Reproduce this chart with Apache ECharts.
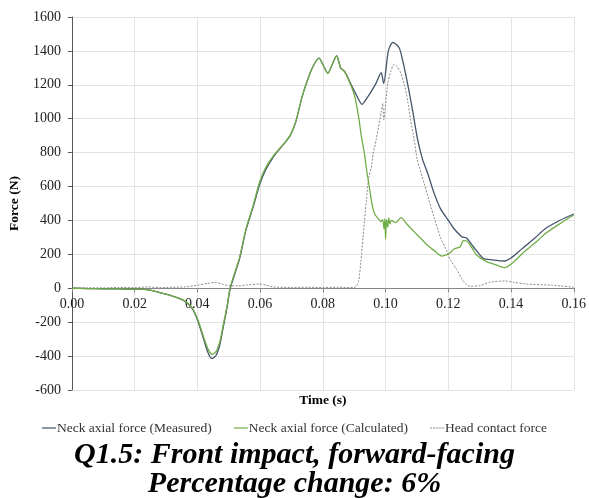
<!DOCTYPE html>
<html>
<head>
<meta charset="utf-8">
<script src="https://cdn.jsdelivr.net/npm/echarts@6/dist/echarts.min.js"></script>
<style>
  html, body { margin: 0; padding: 0; background: #fff; }
  #chart { width: 589px; height: 498px; }
</style>
</head>
<body>
<div id="chart"></div>
<script>
// tick values
var xTicks = [0, 0.02, 0.04, 0.06, 0.08, 0.10, 0.12, 0.14, 0.16];
var yTicks = [-600, -400, -200, 0, 200, 400, 600, 800, 1000, 1200, 1400, 1600];

// [time (s), force (N)]
var measured = [
    [0, 0], [0.005, -2], [0.01, -3], [0.015, -3], [0.02, -5], [0.023, -7], [0.026, -15],
    [0.03, -35], [0.0335, -55], [0.0356, -72], [0.0375, -100], [0.0387, -130], [0.0403, -200],
    [0.042, -300], [0.0435, -385], [0.0447, -415], [0.046, -395], [0.0472, -330], [0.0482, -235],
    [0.0495, -110], [0.0505, 0], [0.0534, 170], [0.0555, 344], [0.0578, 480], [0.0599, 615],
    [0.0618, 700], [0.064, 768], [0.066, 816], [0.068, 860], [0.0697, 904], [0.0714, 983],
    [0.0734, 1130], [0.0755, 1248], [0.0772, 1320], [0.0788, 1357], [0.08, 1320], [0.0816, 1268],
    [0.083, 1320], [0.0844, 1372], [0.0857, 1300], [0.087, 1278], [0.0891, 1199], [0.0907, 1140],
    [0.0925, 1085], [0.094, 1120], [0.0954, 1160], [0.097, 1210], [0.0986, 1272], [0.0994, 1209],
    [0.1009, 1400], [0.1023, 1450], [0.1043, 1420], [0.1055, 1340], [0.1071, 1200], [0.1087, 1040],
    [0.1102, 880], [0.1118, 760], [0.1134, 680], [0.1153, 570], [0.1175, 470], [0.1206, 385],
    [0.1217, 354], [0.1243, 304], [0.1259, 295], [0.128, 245], [0.1311, 177], [0.134, 168],
    [0.138, 161], [0.1437, 236], [0.1475, 295], [0.1511, 354], [0.1555, 400], [0.16, 438]
];

var calculated = [
    [0, 0], [0.005, -2], [0.01, -3], [0.015, -3], [0.02, -5], [0.023, -7], [0.026, -15],
    [0.03, -35], [0.0335, -55], [0.0356, -70], [0.0375, -97], [0.0387, -125], [0.0403, -192],
    [0.042, -288], [0.0435, -362], [0.0447, -389], [0.046, -372], [0.0472, -312], [0.0482, -222],
    [0.0495, -100], [0.0505, 8], [0.0534, 178], [0.0555, 350], [0.0578, 490], [0.0599, 630],
    [0.0618, 712], [0.064, 775], [0.066, 820], [0.068, 862], [0.0697, 906], [0.0714, 985],
    [0.0734, 1130], [0.0755, 1248], [0.0772, 1320], [0.0788, 1357], [0.08, 1320], [0.0816, 1268],
    [0.083, 1320], [0.0844, 1370], [0.0857, 1300], [0.087, 1275], [0.0891, 1190], [0.0902, 1130],
    [0.0915, 1000], [0.0923, 894], [0.0933, 790], [0.0941, 680], [0.0949, 590], [0.0957, 495],
    [0.0965, 440], [0.0976, 412], [0.0986, 393], [0.0991, 405], [0.0995, 350], [0.0998, 410],
    [0.1, 290], [0.1003, 405], [0.1007, 360], [0.101, 415], [0.1014, 380], [0.1018, 400],
    [0.1033, 387], [0.1049, 417], [0.107, 375], [0.1091, 334], [0.1112, 295], [0.1133, 255],
    [0.1155, 222], [0.118, 190], [0.1195, 198], [0.1206, 210], [0.1217, 230], [0.1238, 245],
    [0.1248, 281], [0.1259, 279], [0.1275, 240], [0.129, 196], [0.1322, 157], [0.135, 140],
    [0.138, 122], [0.1405, 150], [0.1437, 206], [0.1475, 265], [0.1511, 324], [0.1555, 380],
    [0.16, 432]
];

var headContact = [
    [0, 0], [0.005, 3], [0.01, 2], [0.015, 5], [0.02, 3], [0.024, 8], [0.028, 4], [0.032, 6],
    [0.036, 8], [0.04, 18], [0.043, 28], [0.0456, 35], [0.048, 25], [0.05, 15], [0.053, 14],
    [0.056, 20], [0.0597, 25], [0.062, 18], [0.064, 8], [0.07, 5], [0.075, 6], [0.08, 4],
    [0.085, 6], [0.09, 4], [0.0907, 14], [0.0914, 40], [0.0921, 150], [0.0928, 300],
    [0.0939, 520], [0.0946, 650], [0.0954, 710], [0.096, 790], [0.097, 875], [0.0986, 1040],
    [0.0991, 1090], [0.0994, 995], [0.1007, 1209], [0.1017, 1280], [0.1027, 1320], [0.1038, 1305],
    [0.1049, 1268], [0.106, 1200], [0.107, 1111], [0.108, 990], [0.1091, 880], [0.1101, 760],
    [0.1123, 619], [0.1154, 422], [0.1175, 300], [0.1196, 216], [0.1206, 170], [0.1227, 110],
    [0.1243, 55], [0.1257, 25], [0.1269, 12], [0.13, 15], [0.1332, 35], [0.138, 43],
    [0.141, 35], [0.1448, 25], [0.1532, 18], [0.16, 6]
];

var seriesNames = ['Neck axial force (Measured)', 'Neck axial force (Calculated)', 'Head contact force'];
var titleLines = ['Q1.5: Front impact, forward-facing', 'Percentage change: 6%'];

var serif = '"Liberation Serif", "Times New Roman", serif';
var solidIcon = 'path://M0,0H14V1.2H0Z';
var dashIcon = 'path://M0,0H2V1H0ZM3,0H5V1H3ZM6,0H8V1H6ZM9,0H11V1H9ZM12,0H14V1H12Z';

// distance of the zero line above the bottom of the grid (grid height 373, range -600..1600)
var gridTop = 17, gridBottom = 108, chartH = 498;
var plotH = chartH - gridTop - gridBottom;
var zeroFromBottom = plotH * (0 - yTicks[0]) / (yTicks[yTicks.length - 1] - yTicks[0]);

var chart = echarts.init(document.getElementById('chart'));
chart.setOption({
    animation: false,
    title: [
        {
            text: titleLines[0],
            left: 'center',
            top: 435,
            textStyle: { fontFamily: serif, fontSize: 30, fontWeight: 'bold', fontStyle: 'italic', color: '#000' }
        },
        {
            text: titleLines[1],
            left: 'center',
            top: 464,
            textStyle: { fontFamily: serif, fontSize: 30, fontWeight: 'bold', fontStyle: 'italic', color: '#000' }
        }
    ],
    legend: {
        data: [
            { name: seriesNames[0], icon: solidIcon },
            { name: seriesNames[1], icon: solidIcon },
            { name: seriesNames[2], icon: dashIcon }
        ],
        left: 'center',
        top: 416,
        itemWidth: 14,
        itemHeight: 1.4,
        itemGap: 22,
        textStyle: { fontFamily: serif, fontSize: 13.5, color: '#333', padding: [0, 0, 0, -4] }
    },
    grid: {
        left: 67,
        right: 14,
        top: gridTop,
        bottom: gridBottom
    },
    xAxis: {
        type: 'value',
        min: xTicks[0],
        max: xTicks[xTicks.length - 1],
        interval: 0.02,
        position: 'bottom',
        offset: -zeroFromBottom,
        name: 'Time (s)',
        nameLocation: 'middle',
        nameGap: 105,
        nameTextStyle: { fontFamily: serif, fontSize: 13.5, fontWeight: 'bold', color: '#000' },
        axisLine: { onZero: false, lineStyle: { color: '#868686', width: 1 } },
        axisTick: { show: true, length: 4, lineStyle: { color: '#868686' } },
        axisLabel: {
            fontFamily: serif, fontSize: 14, color: '#222', margin: 9,
            formatter: function (v) { return v.toFixed(2); }
        },
        splitLine: { show: true, lineStyle: { color: '#e3e3e3', width: 1 } }
    },
    yAxis: {
        type: 'value',
        min: yTicks[0],
        max: yTicks[yTicks.length - 1],
        interval: 200,
        name: 'Force (N)',
        nameLocation: 'middle',
        nameGap: 40,
        nameTextStyle: { fontFamily: serif, fontSize: 13.5, fontWeight: 'bold', color: '#000' },
        axisLine: { show: true, lineStyle: { color: '#595959', width: 1 } },
        axisTick: { show: true, length: 4, lineStyle: { color: '#595959' } },
        axisLabel: {
            fontFamily: serif, fontSize: 14, color: '#222', margin: 11,
            formatter: function (v) { return String(v); }
        },
        splitLine: { show: true, lineStyle: { color: '#e3e3e3', width: 1 } }
    },
    series: [
        {
            name: seriesNames[0],
            type: 'line',
            data: measured,
            showSymbol: false,
            symbol: 'none',
            smooth: 0.25,
            lineStyle: { color: '#44546A', width: 1.3 },
            itemStyle: { color: '#44546A' },
            z: 2
        },
        {
            name: seriesNames[1],
            type: 'line',
            data: calculated,
            showSymbol: false,
            symbol: 'none',
            smooth: 0.25,
            lineStyle: { color: '#70AD47', width: 1.3 },
            itemStyle: { color: '#70AD47' },
            z: 3
        },
        {
            name: seriesNames[2],
            type: 'line',
            data: headContact,
            showSymbol: false,
            symbol: 'none',
            smooth: 0.25,
            lineStyle: { color: '#8a8a8a', width: 1, type: [2, 1.5] },
            itemStyle: { color: '#8a8a8a' },
            z: 1
        }
    ]
});
</script>
</body>
</html>
